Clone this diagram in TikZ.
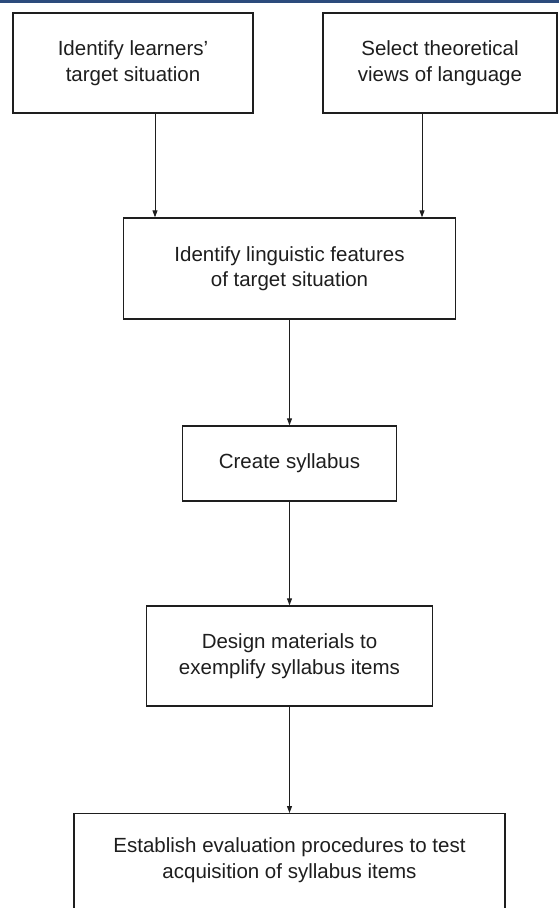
\documentclass[tikz,border=0pt]{standalone}
\usepackage{fontspec}
\setmainfont{Liberation Sans}
\usetikzlibrary{arrows.meta}
\definecolor{ink}{HTML}{1E1E1E}
\definecolor{barblue}{HTML}{2C4B7C}
\tikzset{
  x=1pt, y=-1pt,
  boxtext/.style={align=center, font=\fontsize{20.5}{25.5}\selectfont, text=ink},
  boxnode/.style={draw=ink, line width=1.4pt, rectangle, inner sep=0pt, boxtext},
  arr/.style={draw=ink, line width=1pt, -{Triangle[length=7pt,width=5pt]}}
}
\begin{document}
\begin{tikzpicture}
\useasboundingbox (0,0) rectangle (559,908);
\clip (0,0) rectangle (559,908);
\fill[white] (0,0) rectangle (559,908);
\fill[barblue] (0,0) rectangle (559,3);
\node[boxnode, minimum width=240pt, minimum height=100pt] (b1) at (133,63) {Identify learners'\\target situation};
\node[boxnode, minimum width=234pt, minimum height=100pt] (b2) at (440,63) {Select theoretical\\views of language};
\node[boxnode, minimum width=332pt, minimum height=101pt] (b3) at (289.5,268.5) {Identify linguistic features\\of target situation};
\node[boxnode, minimum width=214pt, minimum height=75pt] (b4) at (289.5,463.5) {Create syllabus};
\node[boxnode, minimum width=286pt, minimum height=100pt] (b5) at (289.5,656) {Design materials to\\exemplify syllabus items};
\node[boxnode, minimum width=431pt, minimum height=100pt, anchor=north] (b6) at (289.5,813) {};
\node[boxtext] (t6) at (289.5,860) {Establish evaluation procedures to test\\acquisition of syllabus items};
\draw[arr] ([xshift=22pt]b1.south) -- ([xshift=22pt]b1.south |- b3.north);
\draw[arr] ([xshift=-18pt]b2.south) -- ([xshift=-18pt]b2.south |- b3.north);
\draw[arr] (b3.south) -- (b4.north);
\draw[arr] (b4.south) -- (b5.north);
\draw[arr] (b5.south) -- (b6.north);
\end{tikzpicture}
\end{document}
